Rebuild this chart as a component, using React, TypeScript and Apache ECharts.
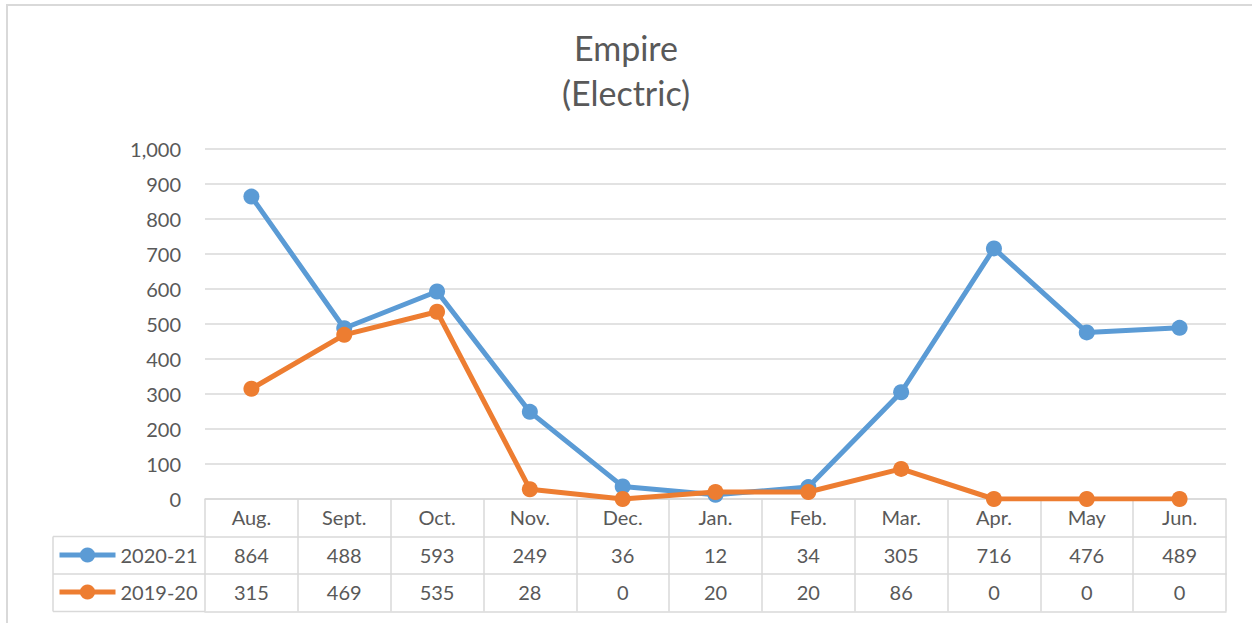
import React, { useEffect, useRef } from "react";
import * as echarts from "echarts";

const months = ["Aug.", "Sept.", "Oct.", "Nov.", "Dec.", "Jan.", "Feb.", "Mar.", "Apr.", "May", "Jun."];
const series2021 = [864, 488, 593, 249, 36, 12, 34, 305, 716, 476, 489];
const series1920 = [315, 469, 535, 28, 0, 20, 20, 86, 0, 0, 0];
const seriesNames = ["2020-21", "2019-20"];
const yTicks = { min: 0, max: 1000, interval: 100 };

const FONT = "Lato, 'Noto Sans', sans-serif";
const TEXT = "#595959";
const GRID = "#d9d9d9";
const BLUE = "#5B9BD5";
const ORANGE = "#ED7D31";

export default function App() {
  const ref = useRef<HTMLDivElement>(null);
  useEffect(() => {
    document.body.style.margin = "0";
    const chart = echarts.init(ref.current!, null, { renderer: "svg" });
    const rowH = 37.5;
    const baseAxis = {
      type: "category" as const,
      data: months,
      position: "bottom" as const,
      boundaryGap: true,
      axisLine: { show: true, lineStyle: { color: GRID, width: 1.5 } },
      axisTick: { show: false },
      splitLine: { show: false },
    };
    const labelStyle = { color: TEXT, fontSize: 20, fontFamily: FONT, margin: 8, interval: 0 };
    chart.setOption({
      animation: false,
      backgroundColor: "#fff",
      textStyle: { fontFamily: FONT },
      title: {
        text: "Empire\n(Electric)",
        left: "center",
        top: 20,
        textStyle: { color: TEXT, fontSize: 34, fontWeight: "normal", fontFamily: FONT, lineHeight: 45 },
      },
      legend: {
        orient: "vertical",
        left: 52,
        top: 540,
        itemGap: 17,
        itemWidth: 56,
        itemHeight: 19,
        lineStyle: { width: 5 },
        textStyle: { color: TEXT, fontSize: 20, fontFamily: FONT },
        data: seriesNames,
        selectedMode: false,
      },
      grid: { left: 205, right: 26, top: 149, bottom: 124, containLabel: false },
      xAxis: [
        {
          ...baseAxis,
          axisTick: { show: true, interval: 0, length: rowH * 3, lineStyle: { color: GRID, width: 1.5 } },
          axisLabel: { ...labelStyle },
        },
        {
          ...baseAxis,
          offset: rowH,
          axisLabel: { ...labelStyle, formatter: (_v: string, i: number) => String(series2021[i]) },
        },
        {
          ...baseAxis,
          offset: rowH * 2,
          axisLabel: { ...labelStyle, formatter: (_v: string, i: number) => String(series1920[i]) },
        },
        {
          ...baseAxis,
          offset: rowH * 3,
          axisLabel: { show: false },
        },
      ],
      yAxis: {
        type: "value",
        min: yTicks.min,
        max: yTicks.max,
        interval: yTicks.interval,
        axisLine: { show: false },
        axisTick: { show: false },
        axisLabel: {
          color: TEXT,
          fontSize: 20,
          fontFamily: FONT,
          margin: 24,
          formatter: (v: number) => v.toLocaleString("en-US"),
        },
        splitLine: { lineStyle: { color: GRID, width: 1.5 } },
      },
      series: [
        {
          name: seriesNames[0],
          type: "line",
          data: series2021,
          xAxisIndex: 0,
          symbol: "circle",
          symbolSize: 16,
          lineStyle: { color: BLUE, width: 5 },
          itemStyle: { color: BLUE },
          z: 3,
        },
        {
          name: seriesNames[1],
          type: "line",
          data: series1920,
          xAxisIndex: 0,
          symbol: "circle",
          symbolSize: 16,
          lineStyle: { color: ORANGE, width: 5 },
          itemStyle: { color: ORANGE },
          z: 4,
        },
      ],
      graphic: [
        {
          type: "rect",
          z: -10,
          silent: true,
          shape: { x: 7, y: 5, width: 1400, height: 800 },
          style: { fill: "none", stroke: GRID, lineWidth: 2 },
        },
        {
          type: "line",
          silent: true,
          shape: { x1: 53, y1: 499 + rowH, x2: 205, y2: 499 + rowH },
          style: { stroke: GRID, lineWidth: 1.5 },
        },
        {
          type: "line",
          silent: true,
          shape: { x1: 53, y1: 499 + rowH * 2, x2: 205, y2: 499 + rowH * 2 },
          style: { stroke: GRID, lineWidth: 1.5 },
        },
        {
          type: "line",
          silent: true,
          shape: { x1: 53, y1: 499 + rowH * 3, x2: 205, y2: 499 + rowH * 3 },
          style: { stroke: GRID, lineWidth: 1.5 },
        },
        {
          type: "line",
          silent: true,
          shape: { x1: 53, y1: 499 + rowH, x2: 53, y2: 499 + rowH * 3 },
          style: { stroke: GRID, lineWidth: 1.5 },
        },
      ],
    });
    return () => chart.dispose();
  }, []);
  return <div ref={ref} style={{ width: 1252, height: 623 }} />;
}
